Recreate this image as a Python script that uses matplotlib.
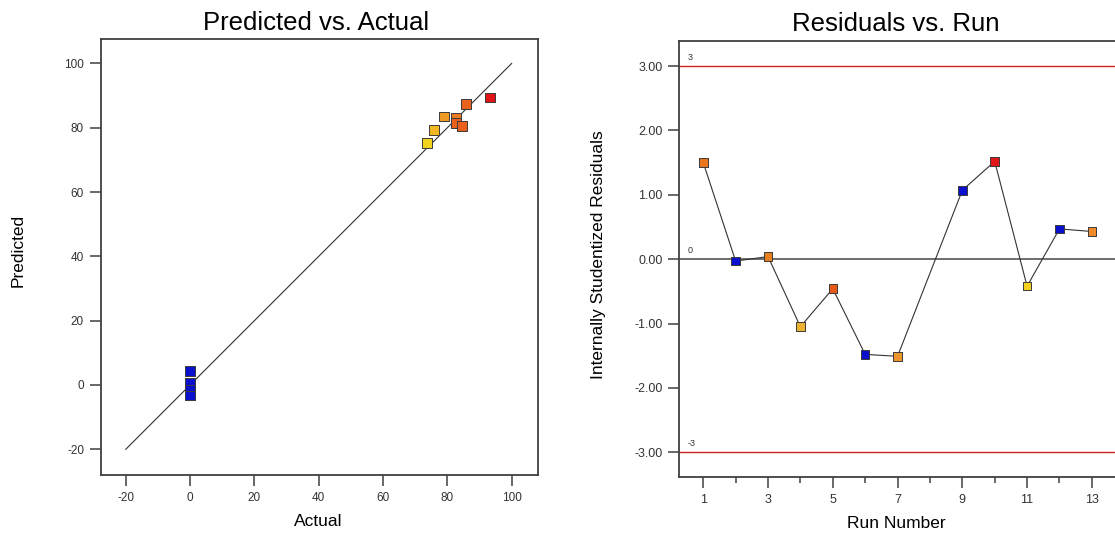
import matplotlib
matplotlib.use("Agg")
import matplotlib.pyplot as plt
from matplotlib.ticker import FixedLocator, FormatStrFormatter

plt.rcParams["font.family"] = ["Liberation Sans", "DejaVu Sans"]
plt.rcParams["axes.unicode_minus"] = False

# Predicted vs. Actual
actual = [0, 0, 0, 0, 73.6, 75.9, 79.0, 82.7, 82.6, 84.6, 85.7, 93.3]
predicted = [4.3, 0.6, -1.5, -3.3, 75.2, 79.2, 83.5, 83.0, 81.4, 80.6, 87.3, 89.4]
pa_colors = ["#0a10cc", "#0a10cc", "#0a10cc", "#0a10cc",
             "#f2d41c", "#f2b824", "#f09a26", "#ec7c22",
             "#e8601c", "#e8601c", "#e8641e", "#e01414"]
pa_ticks = [-20, 0, 20, 40, 60, 80, 100]

# Residuals vs. Run
runs = [1, 2, 3, 4, 5, 6, 7, 9, 10, 11, 12, 13]
residuals = [1.50, -0.03, 0.04, -1.05, -0.46, -1.48, -1.51, 1.07, 1.52, -0.42, 0.47, 0.43]
run_colors = ["#e8761e", "#0a10cc", "#e8801f", "#f0b030", "#e85a1a", "#0a10cc",
              "#ee9530", "#0a10cc", "#e01818", "#f5d020", "#0a10cc", "#ee8a2a"]
run_ticks = [1, 3, 5, 7, 9, 11, 13]
run_minor = [2, 4, 6, 8, 10, 12]
res_ticks = [-3, -2, -1, 0, 1, 2, 3]
limit = 3.0

W, H = 1115, 535
fig = plt.figure(figsize=(W / 100, H / 100), dpi=100)

spine_col = "#404040"
tick_col = "#333333"


def style(ax, fs):
    for s in ax.spines.values():
        s.set_color(spine_col)
        s.set_linewidth(1.3)
    ax.tick_params(which="major", direction="out", length=8, width=1.1,
                   color=spine_col, labelsize=fs, labelcolor=tick_col, pad=4)
    ax.tick_params(which="minor", direction="out", length=4, width=1.1,
                   color=spine_col)


# left panel
ax1 = fig.add_axes([100.7 / W, 1 - 475 / H, 437 / W, 436 / H])
ax1.plot([-20, 100], [-20, 100], color="#333333", linewidth=0.8, zorder=1)
ax1.scatter(actual, predicted, marker="s", s=50, c=pa_colors,
            edgecolors="#3a3a3a", linewidths=0.7, zorder=3)
ax1.set_xlim(-27.8, 108.1)
ax1.set_ylim(-28.0, 107.6)
ax1.set_xticks(pa_ticks)
ax1.set_yticks(pa_ticks)
style(ax1, 8.5)

fig.text(316 / W, 1 - 23 / H, "Predicted vs. Actual", ha="center", va="center",
         fontsize=18.5, color="black")
fig.text(318 / W, 1 - 521 / H, "Actual", ha="center", va="center",
         fontsize=12.5, color="black")
fig.text(18.5 / W, 1 - 250 / H, "Predicted", ha="center", va="center",
         rotation=90, fontsize=12.5, color="black")

# right panel
ax2 = fig.add_axes([679.3 / W, 1 - 477.3 / H, 436.5 / W, 436.3 / H])
ax2.axhline(0, color="#555555", linewidth=1.2, zorder=1)
ax2.axhline(limit, color="#cc2222", linewidth=1.0, zorder=1)
ax2.axhline(-limit, color="#cc2222", linewidth=1.0, zorder=1)
ax2.plot(runs, residuals, color="#333333", linewidth=0.8, zorder=2)
ax2.scatter(runs, residuals, marker="s", s=38, c=run_colors,
            edgecolors="#3a3a3a", linewidths=0.7, zorder=3)
ax2.set_xlim(0.26, 13.74)
ax2.set_ylim(-3.39, 3.39)
ax2.xaxis.set_major_locator(FixedLocator(run_ticks))
ax2.xaxis.set_minor_locator(FixedLocator(run_minor))
ax2.set_yticks(res_ticks)
ax2.yaxis.set_major_formatter(FormatStrFormatter("%.2f"))
style(ax2, 9)
ax2.spines["right"].set_visible(False)

for yv, txt in [(limit, "3"), (0, "0"), (-limit, "-3")]:
    ax2.annotate(txt, xy=(0, yv), xycoords=("axes fraction", "data"),
                 xytext=(6, 3), textcoords="offset points",
                 fontsize=6.5, color="#333333", va="bottom", ha="left")

fig.text(896 / W, 1 - 24 / H, "Residuals vs. Run", ha="center", va="center",
         fontsize=18.5, color="black")
fig.text(896 / W, 1 - 523 / H, "Run Number", ha="center", va="center",
         fontsize=12.5, color="black")
fig.text(598 / W, 1 - 255 / H, "Internally Studentized Residuals", ha="center",
         va="center", rotation=90, fontsize=12.5, color="black")

fig.savefig("out.png", dpi=100)
